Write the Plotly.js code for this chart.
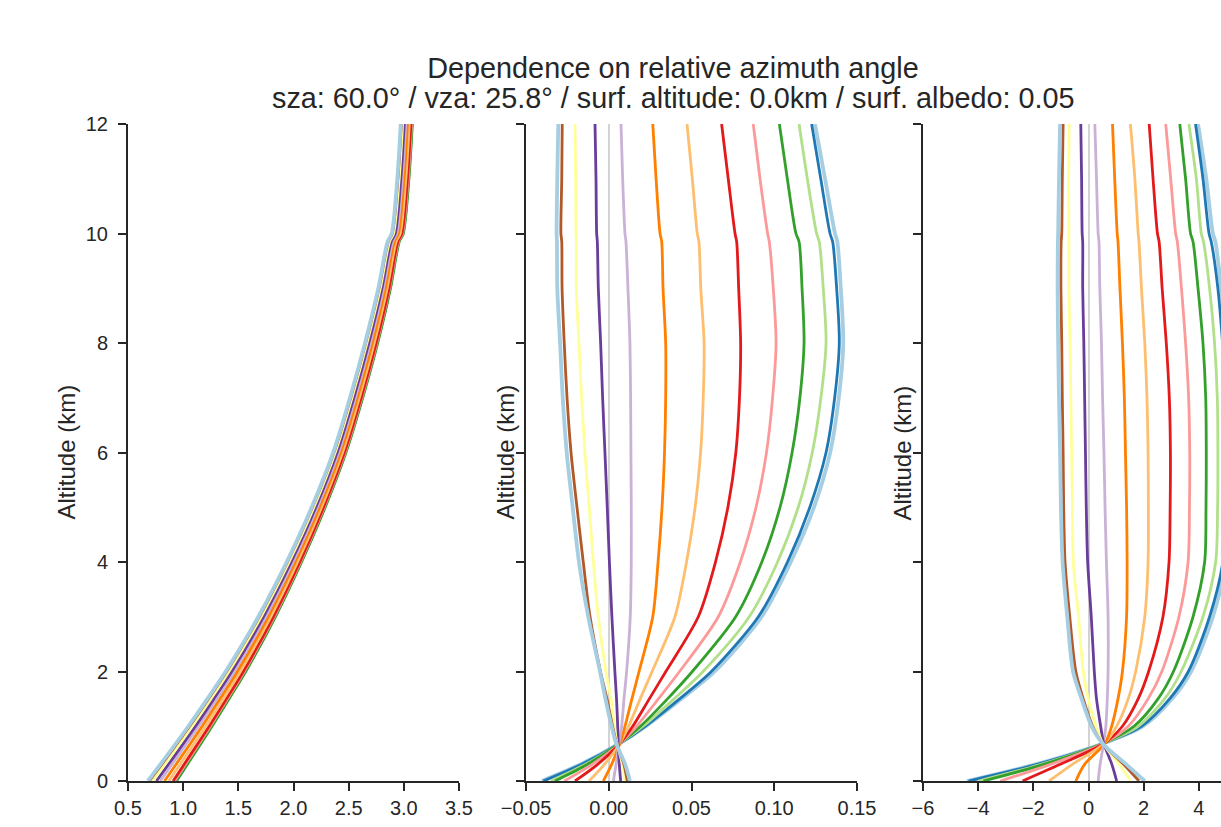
<!DOCTYPE html>
<html>
<head>
<meta charset="utf-8">
<script src="https://cdn.plot.ly/plotly-3.0.1.min.js"></script>
<style>
  html, body { margin: 0; padding: 0; overflow: hidden; background: #ffffff; }
  #chart { width: 1346px; height: 827px; }
</style>
</head>
<body>
<div id="chart"></div>
<script>
// ---------------- data ----------------
const azimuths = [0, 15, 30, 45, 60, 75, 90, 105, 120, 135, 150, 165, 180];
const pairedColors = ['#a6cee3','#1f78b4','#b2df8a','#33a02c','#fb9a99','#e31a1c',
                      '#fdbf6f','#ff7f00','#cab2d6','#6a3d9a','#ffff99','#b15928'];

// altitude grid (km) for left panel and for middle/right panels
const altLeft = [0, 0.5, 1, 1.5, 2, 3, 4, 5, 6, 7, 8, 9, 9.85, 10, 11, 12];
const altMidRight = [0, 0.3, 0.69, 1, 1.5, 2, 3, 4, 5, 6, 7, 8, 9, 9.85, 10, 11, 12];

// left panel, one row per azimuth (0 .. 180)
const leftPanel = [
  [0.924,1.087,1.249,1.404,1.556,1.827,2.065,2.280,2.468,2.620,2.756,2.872,2.952,2.989,3.040,3.071],
  [0.927,1.089,1.251,1.406,1.558,1.828,2.066,2.281,2.469,2.621,2.757,2.874,2.953,2.990,3.041,3.072],
  [0.932,1.094,1.256,1.410,1.562,1.831,2.069,2.283,2.472,2.624,2.760,2.876,2.955,2.992,3.043,3.074],
  [0.940,1.101,1.262,1.416,1.567,1.836,2.073,2.287,2.475,2.627,2.763,2.879,2.958,2.995,3.046,3.077],
  [0.922,1.085,1.247,1.402,1.554,1.825,2.064,2.278,2.467,2.619,2.755,2.871,2.951,2.988,3.039,3.070],
  [0.909,1.073,1.236,1.392,1.545,1.817,2.057,2.272,2.461,2.613,2.749,2.866,2.945,2.982,3.033,3.064],
  [0.870,1.038,1.204,1.363,1.518,1.794,2.037,2.254,2.444,2.596,2.732,2.849,2.930,2.967,3.018,3.049],
  [0.831,1.002,1.172,1.333,1.491,1.771,2.016,2.236,2.427,2.579,2.715,2.833,2.914,2.951,3.002,3.033],
  [0.792,0.967,1.139,1.304,1.463,1.748,1.996,2.217,2.409,2.561,2.697,2.816,2.898,2.935,2.986,3.017],
  [0.758,0.937,1.112,1.278,1.440,1.728,1.979,2.202,2.395,2.547,2.683,2.802,2.885,2.922,2.973,3.004],
  [0.722,0.904,1.081,1.251,1.414,1.706,1.960,2.185,2.378,2.530,2.666,2.787,2.870,2.907,2.958,2.989],
  [0.693,0.878,1.058,1.229,1.394,1.689,1.945,2.171,2.366,2.518,2.654,2.775,2.858,2.895,2.946,2.977],
  [0.680,0.866,1.047,1.219,1.385,1.681,1.938,2.165,2.360,2.512,2.648,2.769,2.853,2.890,2.941,2.972]
];

// middle panel
const middlePanel = [
  [-0.0405,-0.0172,0.0068,0.0225,0.0440,0.0640,0.0924,0.1100,0.1240,0.1338,0.1390,0.1417,0.1402,0.1381,0.1367,0.1307,0.1246],
  [-0.0395,-0.0166,0.0068,0.0220,0.0428,0.0620,0.0904,0.1080,0.1215,0.1313,0.1365,0.1393,0.1377,0.1353,0.1337,0.1281,0.1226],
  [-0.0349,-0.0143,0.0068,0.0207,0.0395,0.0570,0.0849,0.1020,0.1145,0.1230,0.1282,0.1313,0.1296,0.1272,0.1256,0.1200,0.1150],
  [-0.0325,-0.0130,0.0068,0.0192,0.0355,0.0505,0.0767,0.0925,0.1035,0.1108,0.1155,0.1180,0.1168,0.1150,0.1131,0.1079,0.1031],
  [-0.0269,-0.0102,0.0068,0.0168,0.0300,0.0428,0.0662,0.0795,0.0890,0.0953,0.0990,0.1011,0.0994,0.0970,0.0960,0.0914,0.0873],
  [-0.0204,-0.0069,0.0068,0.0145,0.0245,0.0345,0.0541,0.0645,0.0720,0.0768,0.0790,0.0797,0.0785,0.0773,0.0763,0.0722,0.0682],
  [-0.0119,-0.0027,0.0068,0.0120,0.0190,0.0262,0.0400,0.0470,0.0522,0.0555,0.0571,0.0576,0.0556,0.0545,0.0535,0.0505,0.0473],
  [-0.0033,0.0017,0.0068,0.0098,0.0140,0.0183,0.0266,0.0298,0.0322,0.0337,0.0344,0.0344,0.0328,0.0320,0.0310,0.0286,0.0266],
  [0.0028,0.0044,0.0062,0.0078,0.0092,0.0108,0.0130,0.0136,0.0136,0.0134,0.0132,0.0128,0.0116,0.0104,0.0098,0.0084,0.0074],
  [0.0072,0.0064,0.0057,0.0054,0.0047,0.0037,0.0019,0.0004,-0.0009,-0.0023,-0.0037,-0.0049,-0.0063,-0.0069,-0.0073,-0.0077,-0.0083],
  [0.0098,0.0083,0.0050,0.0034,0.0014,-0.0017,-0.0063,-0.0093,-0.0118,-0.0144,-0.0164,-0.0180,-0.0196,-0.0196,-0.0198,-0.0200,-0.0204],
  [0.0112,0.0092,0.0047,0.0023,-0.0011,-0.0050,-0.0113,-0.0154,-0.0192,-0.0228,-0.0252,-0.0269,-0.0282,-0.0284,-0.0289,-0.0284,-0.0281],
  [0.0128,0.0100,0.0044,0.0017,-0.0020,-0.0053,-0.0124,-0.0180,-0.0218,-0.0254,-0.0278,-0.0294,-0.0311,-0.0313,-0.0315,-0.0311,-0.0305]
];

// right panel
const rightPanel = [
  [-4.41,-1.95,0.55,1.98,3.03,3.72,4.51,4.97,5.08,5.11,5.12,5.00,4.81,4.60,4.51,4.27,3.97],
  [-4.35,-1.90,0.55,1.92,2.94,3.62,4.39,4.87,4.97,4.99,4.98,4.86,4.69,4.45,4.37,4.15,3.88],
  [-3.99,-1.75,0.55,1.80,2.76,3.36,4.15,4.61,4.68,4.69,4.67,4.57,4.39,4.17,4.09,3.91,3.64],
  [-3.81,-1.65,0.55,1.65,2.52,3.08,3.79,4.21,4.26,4.27,4.25,4.15,3.97,3.79,3.70,3.52,3.31],
  [-3.20,-1.40,0.56,1.44,2.16,2.66,3.28,3.61,3.66,3.67,3.63,3.52,3.37,3.22,3.16,2.98,2.80],
  [-2.39,-1.05,0.57,1.23,1.80,2.18,2.70,2.92,2.96,2.97,2.93,2.82,2.67,2.56,2.50,2.34,2.20],
  [-1.43,-0.60,0.58,1.02,1.44,1.71,2.04,2.16,2.17,2.16,2.12,2.04,1.92,1.83,1.80,1.68,1.52],
  [-0.46,-0.15,0.60,0.84,1.07,1.23,1.38,1.40,1.38,1.34,1.30,1.23,1.14,1.07,1.04,0.95,0.87],
  [0.35,0.42,0.55,0.63,0.68,0.71,0.71,0.65,0.60,0.56,0.51,0.47,0.41,0.38,0.35,0.29,0.23],
  [1.02,0.85,0.55,0.44,0.29,0.21,0.10,-0.03,-0.08,-0.11,-0.14,-0.17,-0.21,-0.21,-0.23,-0.25,-0.28],
  [1.53,1.12,0.52,0.27,-0.01,-0.19,-0.36,-0.55,-0.58,-0.61,-0.64,-0.67,-0.71,-0.71,-0.71,-0.72,-0.70],
  [1.83,1.28,0.50,0.15,-0.19,-0.46,-0.68,-0.85,-0.90,-0.92,-0.95,-0.97,-1.00,-0.99,-0.97,-0.95,-0.92],
  [2.04,1.38,0.50,0.11,-0.25,-0.56,-0.77,-0.94,-1.00,-1.03,-1.07,-1.10,-1.12,-1.11,-1.10,-1.07,-1.03]
];

const titleLine1 = 'Dependence on relative azimuth angle';
const titleLine2 = 'sza: 60.0° / vza: 25.8° / surf. altitude: 0.0km / surf. albedo: 0.05';
const yLabel = 'Altitude (km)';

// ---------------- build ----------------
const W = 1346, H = 827;
const INK = '#262626';

const traces = [];
function addPanel(rows, alt, xa, ya) {
  rows.forEach((row, i) => {
    const c = i % pairedColors.length;
    traces.push({
      type: 'scatter', mode: 'lines',
      x: row, y: alt, xaxis: xa, yaxis: ya,
      name: azimuths[i] + '°',
      line: { color: pairedColors[c], width: c === 0 ? 3.8 : 2.8, shape: 'spline', smoothing: 0.8 },
      hoverinfo: 'skip', showlegend: false
    });
  });
}
addPanel(leftPanel, altLeft, 'x', 'y');
addPanel(middlePanel, altMidRight, 'x2', 'y2');
addPanel(rightPanel, altMidRight, 'x3', 'y3');

const axisCommon = {
  showline: true, linecolor: INK, linewidth: 2,
  ticks: 'outside', ticklen: 8, tickwidth: 2, tickcolor: INK,
  showgrid: false, zeroline: false,
  tickfont: { size: 20, color: INK }
};

const yCommon = Object.assign({}, axisCommon, {
  range: [0, 12], tick0: 0, dtick: 2, domain: [0, 1]
});

const plotTop = 124, plotBottom = 781;
const layout = {
  width: W, height: H,
  margin: { l: 0, r: 0, t: plotTop, b: H - plotBottom, pad: 0 },
  paper_bgcolor: '#ffffff', plot_bgcolor: '#ffffff',
  font: { family: '"Liberation Sans", Arial, sans-serif', color: INK },
  showlegend: false,
  title: {
    text: titleLine1,
    font: { size: 28.8, color: INK },
    x: 0.5, xanchor: 'center', xref: 'container',
    y: 1 - 58 / H, yanchor: 'top', yref: 'container'
  },
  xaxis: Object.assign({}, axisCommon, {
    domain: [128 / W, 459 / W], anchor: 'y',
    range: [0.5, 3.5], tick0: 0.5, dtick: 0.5, tickformat: '.1f'
  }),
  xaxis2: Object.assign({}, axisCommon, {
    domain: [526 / W, 857 / W], anchor: 'y2',
    range: [-0.05, 0.15], tick0: -0.05, dtick: 0.05, tickformat: '.2f',
    zeroline: true, zerolinecolor: '#d3d3d3', zerolinewidth: 2
  }),
  xaxis3: Object.assign({}, axisCommon, {
    domain: [923 / W, 1254 / W], anchor: 'y3',
    range: [-6, 6], tick0: -6, dtick: 2,
    zeroline: true, zerolinecolor: '#d3d3d3', zerolinewidth: 2
  }),
  yaxis: Object.assign({}, yCommon, { anchor: 'x', ticklabelstandoff: 6 }),
  yaxis2: Object.assign({}, yCommon, { anchor: 'x2', showticklabels: false }),
  yaxis3: Object.assign({}, yCommon, { anchor: 'x3', showticklabels: false }),
  annotations: [66, 505, 902].map(px => ({
    text: yLabel, textangle: -90, showarrow: false,
    xref: 'paper', yref: 'paper', x: px / W, y: 0.5,
    xanchor: 'center', yanchor: 'middle',
    font: { size: 24, color: INK }
  })).concat([{
    // second line of the figure title
    text: titleLine2, showarrow: false,
    xref: 'paper', yref: 'paper', x: 0.5,
    y: 1 + (plotTop - 98) / (plotBottom - plotTop),
    xanchor: 'center', yanchor: 'middle',
    font: { size: 28.8, color: INK }
  }])
};

Plotly.newPlot('chart', traces, layout, { displayModeBar: false, staticPlot: true });
</script>
</body>
</html>
